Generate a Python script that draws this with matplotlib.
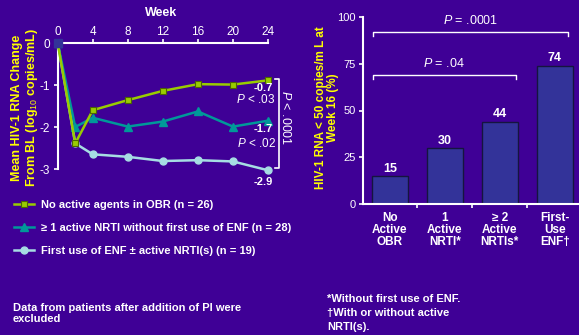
import matplotlib
matplotlib.use('Agg')
import matplotlib.pyplot as plt
from matplotlib.lines import Line2D

# ---------------- data ----------------
weeks = [0, 2, 4, 8, 12, 16, 20, 24]
no_active = [0, -2.39, -1.60, -1.36, -1.14, -0.98, -0.99, -0.89]
nrti_active = [0, -2.00, -1.78, -1.99, -1.87, -1.63, -1.99, -1.85]
first_enf = [0, -2.39, -2.65, -2.71, -2.81, -2.79, -2.82, -3.03]
series_labels = ['No active agents in OBR (n = 26)',
                 '\u2265 1 active NRTI without first use of ENF (n = 28)',
                 'First use of ENF \u00b1 active NRTI(s) (n = 19)']
week_ticks = [0, 4, 8, 12, 16, 20, 24]
change_ticks = [0, -1, -2, -3]
end_labels = ['-0.7', '-1.7', '-2.9']
pair_pvals = ['P < .03', 'P < .02']
overall_pval = 'P < .0001'

categories = ['No\nActive\nOBR', '1\nActive\nNRTI*', '\u2265 2\nActive\nNRTIs*', 'First-\nUse\nENF\u2020']
pct = [15, 30, 44, 74]
pct_ticks = [0, 25, 50, 75, 100]
bar_pvals = ['P = .0001', 'P = .04']

# ---------------- style ----------------
BG = '#3F0096'
WHITE = 'white'
YELLOW = '#FFFF00'
GREEN = '#99CC00'
TEAL = '#009999'
LBLUE = '#A6DDE3'
BARC = '#333399'

plt.rcParams['font.family'] = ['Liberation Sans', 'DejaVu Sans']
plt.rcParams['mathtext.fontset'] = 'custom'
plt.rcParams['mathtext.it'] = 'Liberation Sans:italic'
plt.rcParams['mathtext.rm'] = 'Liberation Sans'

W, H = 579, 335
fig = plt.figure(figsize=(W / 100, H / 100), dpi=100, facecolor=BG)

def fx(x):
    return x / W

def fy(y):
    return 1 - y / H

def ital(s):
    return s.replace('P', r'$\it{P}$', 1)

# ---------------- left line chart ----------------
L0, L1, T0, B0 = 57.7, 268.0, 43.0, 169.0
axl = fig.add_axes([fx(L0), fy(B0), fx(L1) - fx(L0), fy(T0) - fy(B0)])
axl.set_facecolor(BG)
axl.set_xlim(0, 24)
axl.set_ylim(-3, 0)
for s in ['right', 'bottom']:
    axl.spines[s].set_visible(False)
for s in ['left', 'top']:
    axl.spines[s].set_color(WHITE)
    axl.spines[s].set_linewidth(1.5)
axl.xaxis.tick_top()
axl.xaxis.set_label_position('top')
axl.set_xticks(week_ticks)
axl.set_yticks(change_ticks)
axl.set_yticklabels(['0', '-1', '-2', '-3'])
axl.tick_params(axis='x', colors=WHITE, labelsize=8.5, width=1.2, length=3, pad=0.5, direction='out')
axl.tick_params(axis='y', colors=WHITE, labelsize=8.5, width=1.2, length=3, pad=2.5, direction='out')
axl.set_xlabel('Week', color=WHITE, fontsize=9, fontweight='bold')
axl.xaxis.set_label_coords((161 - L0) / (L1 - L0), (B0 - 13) / (B0 - T0))
axl.xaxis.label.set_va('center')
axl.set_ylabel('Mean HIV-1 RNA Change\nFrom BL (log$_{10}$ copies/mL)', color=YELLOW,
               fontsize=9, fontweight='bold', linespacing=1.05)
axl.yaxis.set_label_coords((25.5 - L0) / (L1 - L0), (B0 - 108) / (B0 - T0))
axl.yaxis.label.set_va('center')

h3, = axl.plot(weeks, first_enf, '-o', color=LBLUE, lw=1.8, ms=5, mec=LBLUE, clip_on=False, zorder=3)
h2, = axl.plot(weeks, nrti_active, '-^', color=TEAL, lw=1.8, ms=5.5, mec=TEAL, clip_on=False, zorder=4)
h1, = axl.plot(weeks, no_active, '-s', color=GREEN, lw=1.8, ms=5, mec='#4D6600', mew=0.8, clip_on=False, zorder=5)
axl.plot(weeks[:1], no_active[:1], 's', color=BARC, ms=6, clip_on=False, zorder=6)

# end-value annotations and bracket
fig.text(fx(263), fy(88), end_labels[0], color=WHITE, fontsize=8, fontweight='bold', ha='center', va='center')
fig.text(fx(256), fy(99.5), ital(pair_pvals[0]), color=WHITE, fontsize=8.5, ha='center', va='center')
fig.text(fx(263), fy(129), end_labels[1], color=WHITE, fontsize=8, fontweight='bold', ha='center', va='center')
fig.text(fx(256), fy(143), ital(pair_pvals[1]), color=WHITE, fontsize=8.5, ha='center', va='center')
fig.text(fx(263), fy(182), end_labels[2], color=WHITE, fontsize=8, fontweight='bold', ha='center', va='center')
fig.add_artist(Line2D([fx(275), fx(279), fx(279), fx(275)], [fy(79), fy(79), fy(168), fy(168)],
                      color=WHITE, lw=1.2, transform=fig.transFigure))
fig.text(fx(286), fy(118), ital(overall_pval), color=WHITE, fontsize=9, rotation=270,
         ha='center', va='center')

# legend
leg = fig.legend([h1, h2, h3], series_labels, loc='upper left', bbox_to_anchor=(fx(14), fy(200)),
                 frameon=False, prop={'size': 8, 'weight': 'bold'}, labelcolor=WHITE,
                 handlelength=1.8, handletextpad=0.6, labelspacing=1.15, borderpad=0, borderaxespad=0)

fig.text(fx(13), fy(313.5), 'Data from patients after addition of PI were\nexcluded', color=WHITE,
         fontsize=8, fontweight='bold', ha='left', va='center', linespacing=1.15)

# ---------------- right bar chart ----------------
R0, R1, RT, RB = 363.0, 579.0, 17.0, 204.0
axr = fig.add_axes([fx(R0), fy(RB), fx(R1) - fx(R0), fy(RT) - fy(RB)])
axr.set_facecolor(BG)
axr.set_ylim(0, 100)
axr.set_xlim(-0.49, 3.44)
for s in ['right', 'top']:
    axr.spines[s].set_visible(False)
for s in ['left', 'bottom']:
    axr.spines[s].set_color(WHITE)
    axr.spines[s].set_linewidth(1.5)
xpos = list(range(len(categories)))
bars = axr.bar(xpos, pct, width=0.655, color=BARC, edgecolor='#15153F', linewidth=1.0)
for xb, v in zip(xpos, pct):
    axr.annotate(str(v), (xb, v), xytext=(0, 1.0), textcoords='offset points', ha='center', va='bottom',
                 color=WHITE, fontsize=9, fontweight='bold')
axr.set_yticks(pct_ticks)
axr.set_xticks(xpos)
axr.set_xticklabels(categories, fontsize=8.5, fontweight='bold', color=WHITE, linespacing=1.0)
axr.set_xticks([0.5, 1.5, 2.5], minor=True)
axr.tick_params(axis='x', which='major', length=0, pad=5.5)
axr.tick_params(axis='x', which='minor', length=3, width=1.2, color=WHITE, direction='out')
axr.tick_params(axis='y', colors=WHITE, labelsize=8, width=1.2, length=3, pad=2.5, direction='out')
axr.set_ylabel('HIV-1 RNA < 50 copies/m L at\nWeek 16 (%)', color=YELLOW, fontsize=8.5,
               fontweight='bold', linespacing=1.05)
axr.yaxis.set_label_coords((327 - R0) / (R1 - R0), (RB - 108) / (RB - RT))
axr.yaxis.label.set_va('center')

# significance brackets
for (x0, x1, yb, txt, xt) in [(-0.31, 3.24, 92.0, bar_pvals[0], 1.47),
                              (-0.31, 2.29, 69.0, bar_pvals[1], 0.98)]:
    axr.plot([x0, x0, x1, x1], [yb - 2, yb, yb, yb - 2], color=WHITE, lw=1.0, clip_on=False)
    axr.text(xt, yb + 2.5, ital(txt), color=WHITE, fontsize=9, ha='center', va='bottom')

fig.text(fx(327), fy(313), '*Without first use of ENF.\n\u2020With or without active\nNRTI(s).',
         color=WHITE, fontsize=8, fontweight='bold', ha='left', va='center', linespacing=1.45)

fig.savefig('out.png', dpi=100, facecolor=BG)
